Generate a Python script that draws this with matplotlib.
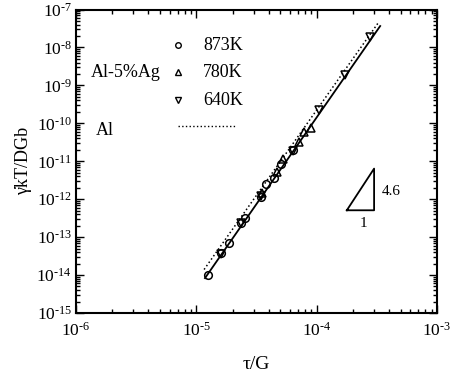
import matplotlib
matplotlib.use("Agg")
import matplotlib.pyplot as plt
from matplotlib.ticker import LogLocator, FixedLocator, NullFormatter
import numpy as np

plt.rcParams['font.family'] = ['Liberation Serif', 'DejaVu Serif']
plt.rcParams['mathtext.fontset'] = 'custom'
plt.rcParams['mathtext.rm'] = 'Liberation Serif'
plt.rcParams['mathtext.it'] = 'Liberation Serif:italic'

# data (tau/G, strain-rate parameter)
x_873 = [1.26e-5, 1.60e-5, 1.88e-5, 2.34e-5, 2.54e-5, 3.45e-5, 3.78e-5, 4.43e-5, 5.06e-5, 6.33e-5]
y_873 = [1.0e-14, 3.9e-14, 7.2e-14, 2.3e-13, 3.2e-13, 1.15e-12, 2.45e-12, 3.6e-12, 8.3e-12, 1.94e-11]
x_780 = [3.50e-5, 4.66e-5, 5.22e-5, 7.10e-5, 7.85e-5, 8.90e-5]
y_780 = [1.5e-12, 5.2e-12, 1.15e-11, 3.2e-11, 6.0e-11, 7.6e-11]
x_640 = [1.60e-5, 2.36e-5, 3.45e-5, 6.33e-5, 1.05e-4, 1.72e-4, 2.78e-4]
y_640 = [3.7e-14, 2.4e-13, 1.2e-12, 1.9e-11, 2.2e-10, 1.9e-9, 1.9e-8]
fit_x = [1.18e-5, 3.37e-4]
fit_y = [8.3e-15, 3.67e-8]
al_x = [1.16e-5, 3.22e-4]
al_y = [1.4e-14, 4.3e-8]
slope_tri_x = [1.78e-4, 3.0e-4, 3.0e-4, 1.78e-4]
slope_tri_y = [5.1e-13, 5.1e-13, 6.4e-12, 5.1e-13]
xticks = [1e-6, 1e-5, 1e-4, 1e-3]
xticklabels = ['6', '5', '4', '3']
yticks = [1e-15, 1e-14, 1e-13, 1e-12, 1e-11, 1e-10, 1e-9, 1e-8, 1e-7]
yticklabels = ['15', '14', '13', '12', '11', '10', '9', '8', '7']

fig = plt.figure(figsize=(4.54, 3.81), dpi=100)
ax = fig.add_axes([0.1674, 0.1785, 0.7952, 0.7965])
ax.set_xscale('log')
ax.set_yscale('log')
ax.set_xlim(1e-6, 1e-3)
ax.set_ylim(1e-15, 1e-7)

ax.plot(fit_x, fit_y, '-', color='black', lw=1.3)
ax.plot(al_x, al_y, ':', color='black', lw=1.1)
ms = 5.5
ax.plot(x_873, y_873, 'o', mfc='none', mec='black', ms=ms, mew=1.1)
ax.plot(x_780, y_780, '^', mfc='none', mec='black', ms=ms, mew=1.1)
ax.plot(x_640, y_640, 'v', mfc='none', mec='black', ms=ms, mew=1.1)
ax.plot(slope_tri_x, slope_tri_y, '-', color='black', lw=1.3)

ax.text(3.45e-4, 1.6e-12, '4.6', fontsize=11, ha='left', va='center')
ax.text(2.45e-4, 2.3e-13, '1', fontsize=11, ha='center', va='center')

# legend-like annotation (axes coords)
def ax_xy(px, py):
    return ((px - 76) / (437 - 76), 1 - (py - 9.5) / (313 - 9.5))

fs = 13
ax.text(*ax_xy(91, 72), 'Al-5%Ag', transform=ax.transAxes, fontsize=fs, ha='left', va='center')
ax.text(*ax_xy(96, 130), 'Al', transform=ax.transAxes, fontsize=fs, ha='left', va='center')
for mk, py, lab in [('o', 45, '873K'), ('^', 72, '780K'), ('v', 100, '640K')]:
    ax.plot(*ax_xy(178, py), mk, transform=ax.transAxes, mfc='none', mec='black', ms=4, mew=1.0)
    ax.text(*ax_xy(203, py), lab, transform=ax.transAxes, fontsize=fs, ha='left', va='center')
p0 = ax_xy(178, 126)
p1 = ax_xy(236, 126)
ax.plot([p0[0], p1[0]], [p0[1], p1[1]], ':', color='black', lw=1.0, transform=ax.transAxes)

ax.xaxis.set_major_locator(FixedLocator(xticks))
ax.set_xticklabels([r'$\mathregular{10^{\text{-}%s}}$' % t for t in xticklabels])
ax.yaxis.set_major_locator(FixedLocator(yticks))
ax.set_yticklabels([r'$\mathregular{10^{\text{-}%s}}$' % t for t in yticklabels])
ax.xaxis.set_minor_locator(LogLocator(base=10, subs=np.arange(2, 10), numticks=100))
ax.yaxis.set_minor_locator(LogLocator(base=10, subs=np.arange(2, 10), numticks=100))
ax.xaxis.set_minor_formatter(NullFormatter())
ax.yaxis.set_minor_formatter(NullFormatter())
ax.tick_params(which='both', direction='in', top=True, right=True, labelsize=12.5, width=1.0)
ax.tick_params(which='major', length=6)
ax.tick_params(which='minor', length=3)
ax.tick_params(axis='x', pad=6)
ax.tick_params(axis='y', pad=3)
for s in ax.spines.values():
    s.set_linewidth(1.5)

ax.set_xlabel('τ/G', fontsize=14, labelpad=12)
ax.set_ylabel('γ̇kT/DGb', fontsize=13, labelpad=3)

fig.savefig('out.png', dpi=100)
